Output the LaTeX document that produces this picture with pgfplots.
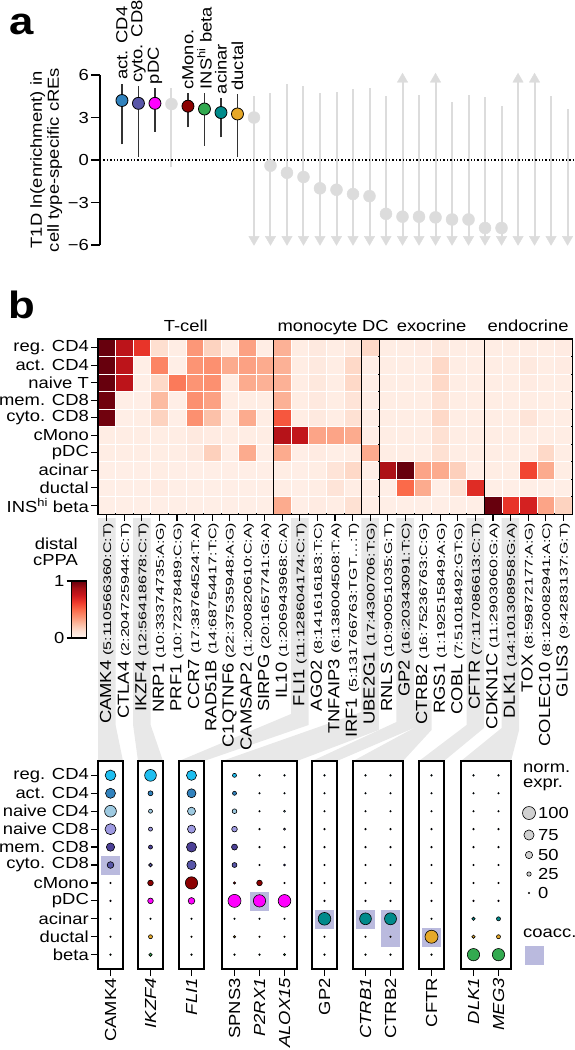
\documentclass[border=0pt]{standalone}
\usepackage{pgfplots}
\pgfplotsset{compat=1.18}
\usepackage{fontspec}
\setmainfont{Liberation Sans}[FakeStretch=1.15]
\newfontfamily\coordfont{Liberation Sans}[FakeStretch=1.45]

\newcommand{\fs}{\fontsize{16}{18}\selectfont}
\newcommand{\fss}{\coordfont\fontsize{11}{12}\selectfont}

\definecolor{cActCD4}{RGB}{49,130,189}
\definecolor{cCytoCD8}{RGB}{88,86,168}
\definecolor{cMono}{RGB}{139,0,0}
\definecolor{cPDC}{RGB}{255,0,255}
\definecolor{cAcinar}{RGB}{0,139,139}
\definecolor{cDuctal}{RGB}{230,168,40}
\definecolor{cBeta}{RGB}{50,170,80}
\definecolor{greyPt}{RGB}{220,220,220}
\definecolor{band}{RGB}{232,232,232}
\definecolor{coacc}{RGB}{186,186,222}

\pgfplotsset{
  colormap={reds}{rgb255=(255,245,240) rgb255=(254,224,210) rgb255=(252,187,161) rgb255=(252,146,114) rgb255=(251,106,74) rgb255=(239,59,44) rgb255=(203,24,29) rgb255=(165,15,21) rgb255=(103,0,13)},
  colormap={cells}{rgb255=(30,190,240) rgb255=(49,130,189) rgb255=(158,202,225) rgb255=(158,154,225) rgb255=(76,64,150) rgb255=(88,86,168) rgb255=(139,0,0) rgb255=(255,0,255) rgb255=(0,139,139) rgb255=(230,168,40) rgb255=(50,170,80)},
  hm/.style={scatter, only marks, mark=square*, mark size=7.75pt, point meta=explicit,
    scatter/use mapped color={draw=mapped color, fill=mapped color}},
  dots/.style={scatter, only marks, mark=*, point meta=\thisrow{r},
    scatter/use mapped color={draw=black, fill=mapped color},
    visualization depends on={0.75+0.0575*\thisrow{v} \as \msz},
    scatter/@pre marker code/.append style={/tikz/mark size=\msz},
    mark options={line width=0.6pt}},
  coac/.style={only marks, mark=square*, mark size=9pt, color=coacc},
  dotbox/.style={
    anchor=north west, scale only axis, height=208pt,
    ymin=0.2, ymax=11.8, xmin=0.5,
    ytick=\empty, xtick pos=left,
    tick align=outside, major tick length=7pt,
    xticklabel style={rotate=90, anchor=east, font=\fs, inner sep=2pt},
    yticklabel style={font=\fs, inner sep=2pt},
    axis line style={line width=1.2pt},
    tick style={line width=1.2pt, black},
    colormap name=cells, point meta min=1, point meta max=11,
    clip=false},
}

\begin{document}
\begin{tikzpicture}
\path[use as bounding box] (0pt,0pt) rectangle (575pt,-1050pt);

% connector bands (decoration)
\begin{scope}[x=1pt,y=1pt]
\fill[band] (98,-518) -- (115.6,-518) -- (115.6,-725) -- (123,-761) -- (98,-761) -- cycle;
\fill[band] (133.1,-518) -- (150.7,-518) -- (150.7,-725) -- (163,-761) -- (138,-761) -- (133.1,-725) -- cycle;
\fill[band] (291,-518) -- (308.6,-518) -- (308.6,-725) -- (204,-761) -- (179,-761) -- (291,-714) -- cycle;
\fill[band] (361.3,-518) -- (378.8,-518) -- (378.8,-730) -- (297,-761) -- (222,-761) -- (361.3,-712) -- cycle;
\fill[band] (396.4,-518) -- (413.9,-518) -- (413.9,-728) -- (337,-761) -- (312,-761) -- (396.4,-722) -- cycle;
\fill[band] (413.9,-700) -- (431.5,-700) -- (431.5,-730) -- (403,-761) -- (353,-761) -- (413.9,-728) -- cycle;
\fill[band] (466.5,-518) -- (484,-518) -- (484,-728) -- (444,-761) -- (419,-761) -- (466.5,-725) -- cycle;
\fill[band] (501.6,-518) -- (519.1,-518) -- (519.1,-730) -- (511,-761) -- (461,-761) -- (501.6,-728) -- cycle;
\node[font=\fontsize{38}{38}\bfseries\selectfont, anchor=base west, inner sep=0pt] at (9,-34) {a};
\node[font=\fontsize{38}{38}\bfseries\selectfont, anchor=base west, inner sep=0pt] at (8,-318) {b};
\node[font=\fontsize{16}{16}\selectfont, align=right, anchor=east, inner sep=0pt] at (78,-552) {distal\\cPPA};
\end{scope}

% ---------------- panel a ----------------
\begin{axis}[
  at={(100pt,-75pt)}, anchor=north west, scale only axis,
  width=473pt, height=170pt,
  xmin=-1.33, xmax=27.33, ymin=-6, ymax=6,
  axis x line=none, axis y line=left,
  axis line style={-, line width=1.2pt},
  ytick={-6,-3,0,3,6}, yticklabels={−6,−3,0,3,6},
  tick align=outside, major tick length=9pt,
  tick style={line width=1.2pt, black},
  yticklabel style={font=\fs, inner sep=2pt},
  ylabel={T1D ln(enrichment) in\\cell type-specific cREs},
  ylabel style={font=\fontsize{16}{17}\selectfont, align=center},
  clip=false,
]
\addplot[draw=greyPt, line width=2pt, unbounded coords=jump, mark=none] table[row sep=\\]{
x y\\
3 -0.5\\ 3 5.1\\ 3 nan\\
8 -5.6\\ 8 4.5\\ 8 nan\\
9 -5.6\\ 9 4.73\\ 9 nan\\
10 -5.6\\ 10 5.4\\ 10 nan\\
11 -5.6\\ 11 5.22\\ 11 nan\\
12 -5.6\\ 12 4.75\\ 12 nan\\
13 -5.6\\ 13 4.8\\ 13 nan\\
14 -5.6\\ 14 5.0\\ 14 nan\\
15 -5.6\\ 15 5.06\\ 15 nan\\
16 -5.6\\ 16 4.52\\ 16 nan\\
17 -5.6\\ 17 5.7\\ 17 nan\\
18 -5.6\\ 18 4.59\\ 18 nan\\
19 -5.6\\ 19 5.7\\ 19 nan\\
20 -5.6\\ 20 4.12\\ 20 nan\\
21 -5.6\\ 21 4.59\\ 21 nan\\
22 -5.6\\ 22 4.42\\ 22 nan\\
23 -5.6\\ 23 3.83\\ 23 nan\\
24 -5.6\\ 24 5.7\\ 24 nan\\
25 -5.6\\ 25 5.7\\ 25 nan\\
26 -5.6\\ 26 4.52\\ 26 nan\\
27 -5.6\\ 27 3.58\\
};
\addplot[only marks, mark=triangle*, mark size=6pt, color=greyPt, mark options={rotate=180, draw=none}] coordinates {
(8,-5.6) (9,-5.6) (10,-5.6) (11,-5.6) (12,-5.6) (13,-5.6) (14,-5.6) (15,-5.6) (16,-5.6) (17,-5.6)
(18,-5.6) (19,-5.6) (20,-5.6) (21,-5.6) (22,-5.6) (23,-5.6) (24,-5.6) (25,-5.6) (26,-5.6) (27,-5.6)};
\addplot[only marks, mark=triangle*, mark size=6pt, color=greyPt, mark options={draw=none}] coordinates {
(17,5.7) (19,5.7) (24,5.7) (25,5.7)};
\addplot[draw=black!80, line width=1.5pt, unbounded coords=jump, mark=none] table[row sep=\\]{
x y\\
0 1.1\\ 0 5.4\\ 0 nan\\
1 0.2\\ 1 5.2\\ 1 nan\\
2 2.0\\ 2 5.1\\ 2 nan\\
4 2.3\\ 4 4.7\\ 4 nan\\
5 1.0\\ 5 4.75\\ 5 nan\\
6 1.6\\ 6 4.4\\ 6 nan\\
7 0.2\\ 7 4.65\\
};
\addplot[black, line width=1.4pt, dash pattern=on 1.4pt off 2pt, mark=none] coordinates {(-1.33,0) (27.33,0)};
\addplot[only marks, mark=*, mark size=6pt, color=greyPt] coordinates {
(3,3.95) (8,3.0) (9,-0.4) (10,-0.9) (11,-1.2) (12,-2.0) (13,-2.1) (14,-2.4) (15,-2.55)
(16,-3.8) (17,-4.0) (18,-4.0) (19,-4.05) (20,-4.2) (21,-4.2) (22,-4.8) (23,-4.8)};
\addplot[only marks, mark=*, mark size=6pt, draw=black, fill=cActCD4, mark options={line width=0.8pt}] coordinates {(0,4.2)};
\addplot[only marks, mark=*, mark size=6pt, draw=black, fill=cCytoCD8, mark options={line width=0.8pt}] coordinates {(1,4.0)};
\addplot[only marks, mark=*, mark size=6pt, draw=black, fill=cPDC, mark options={line width=0.8pt}] coordinates {(2,4.0)};
\addplot[only marks, mark=*, mark size=6pt, draw=black, fill=cMono, mark options={line width=0.8pt}] coordinates {(4,3.8)};
\addplot[only marks, mark=*, mark size=6pt, draw=black, fill=cBeta, mark options={line width=0.8pt}] coordinates {(5,3.6)};
\addplot[only marks, mark=*, mark size=6pt, draw=black, fill=cAcinar, mark options={line width=0.8pt}] coordinates {(6,3.35)};
\addplot[only marks, mark=*, mark size=6pt, draw=black, fill=cDuctal, mark options={line width=0.8pt}] coordinates {(7,3.25)};
\node[rotate=90, anchor=west, font=\fs] at (axis cs:0,5.4) {act. CD4};
\node[rotate=90, anchor=west, font=\fs] at (axis cs:1,5.2) {cyto. CD8};
\node[rotate=90, anchor=west, font=\fs] at (axis cs:2,5.1) {pDC};
\node[rotate=90, anchor=west, font=\fs] at (axis cs:4,4.7) {cMono.};
\node[rotate=90, anchor=west, font=\fs] at (axis cs:5,4.75) {INS\textsuperscript{hi} beta};
\node[rotate=90, anchor=west, font=\fs] at (axis cs:6,4.4) {acinar};
\node[rotate=90, anchor=west, font=\fs] at (axis cs:7,4.65) {ductal};
\end{axis}

% ---------------- panel b heatmap ----------------
\begin{axis}[
  at={(98pt,-339pt)}, anchor=north west, scale only axis,
  width=474pt, height=175pt,
  xmin=0.5, xmax=27.5, ymin=0.5, ymax=10.5,
  xtick={1,...,27}, ytick={1,...,10},
  xtick pos=left, ytick pos=left,
  tick align=outside, major tick length=7pt,
  tick style={line width=1.2pt, black},
  axis line style={line width=1.3pt},
  axis on top,
  yticklabels={INS\textsuperscript{hi} beta, ductal, acinar, pDC, cMono, cyto. CD8, mem. CD8, naive T, act. CD4, reg. CD4},
  xticklabels={
    {CAMK4 {\fss(5:110566360:C:T)}},
    {CTLA4 {\fss(2:204725944:C:T)}},
    {IKZF4 {\fss(12:56418678:C:T)}},
    {NRP1 {\fss(10:33374735:A:G)}},
    {PRF1 {\fss(10:72378489:C:G)}},
    {CCR7 {\fss(17:38764524:T:A)}},
    {RAD51B {\fss(14:68754417:T:C)}},
    {C1QTNF6 {\fss(22:37535948:A:G)}},
    {CAMSAP2 {\fss(1:200820610:C:A)}},
    {SIRPG {\fss(20:1657741:G:A)}},
    {IL10 {\fss(1:206943968:C:A)}},
    {FLI1 {\fss(11:128604174:C:T)}},
    {AGO2 {\fss(8:141616183:T:C)}},
    {TNFAIP3 {\fss(6:138004508:T:A)}},
    {IRF1 {\fss(5:131766763:TGT\ldots:T)}},
    {UBE2G1 {\fss(17:4300706:T:G)}},
    {RNLS {\fss(10:90051035:G:T)}},
    {GP2 {\fss(16:20343091:T:C)}},
    {CTRB2 {\fss(16:75236763:C:G)}},
    {RGS1 {\fss(1:192515849:A:G)}},
    {COBL {\fss(7:51018492:GT:G)}},
    {CFTR {\fss(7:117086613:C:T)}},
    {CDKN1C {\fss(11:2903060:G:A)}},
    {DLK1 {\fss(14:101308958:G:A)}},
    {TOX {\fss(8:59872177:A:G)}},
    {COLEC10 {\fss(8:120082941:A:C)}},
    {GLIS3 {\fss(9:4283137:G:T)}}},
  xticklabel style={rotate=90, anchor=east, font=\fs, inner sep=1.5pt},
  yticklabel style={font=\fs, inner sep=2pt},
  colormap name=reds, point meta min=0, point meta max=1,
  colorbar,
  colorbar style={
    at={(parent axis.south west)}, anchor=north east,
    xshift=-20pt, yshift=-67pt,
    scale only axis, width=15pt, height=57pt,
    ytick={0,1}, yticklabels={0,1},
    yticklabel pos=left, ytick pos=left,
    tick align=outside, major tick length=5pt,
    yticklabel style={font=\fs, inner sep=2pt},
    axis line style={line width=1.2pt},
    tick style={line width=1.2pt, black}},
  clip=false,
]
\addplot[hm] table[row sep=\\, header=false, x expr=\coordindex+1, y expr=10, meta index=0]{1.00\\0.80\\0.65\\0.13\\0.05\\0.36\\0.17\\0.05\\0.33\\0.05\\0.28\\0.05\\0.07\\0.05\\0.08\\0.15\\0.05\\0.05\\0.06\\0.08\\0.05\\0.05\\0.05\\0.05\\0.05\\0.05\\0.06\\};
\addplot[hm] table[row sep=\\, header=false, x expr=\coordindex+1, y expr=9, meta index=0]{1.00\\0.80\\0.04\\0.42\\0.04\\0.37\\0.38\\0.30\\0.33\\0.30\\0.28\\0.05\\0.07\\0.05\\0.15\\0.04\\0.05\\0.05\\0.05\\0.15\\0.05\\0.05\\0.05\\0.05\\0.07\\0.05\\0.06\\};
\addplot[hm] table[row sep=\\, header=false, x expr=\coordindex+1, y expr=8, meta index=0]{1.00\\0.80\\0.04\\0.15\\0.45\\0.37\\0.38\\0.05\\0.30\\0.28\\0.28\\0.05\\0.08\\0.05\\0.15\\0.04\\0.05\\0.05\\0.05\\0.15\\0.05\\0.05\\0.05\\0.05\\0.06\\0.05\\0.05\\};
\addplot[hm] table[row sep=\\, header=false, x expr=\coordindex+1, y expr=7, meta index=0]{0.98\\0.04\\0.04\\0.25\\0.04\\0.38\\0.33\\0.05\\0.05\\0.05\\0.28\\0.05\\0.07\\0.05\\0.10\\0.04\\0.05\\0.05\\0.05\\0.12\\0.05\\0.05\\0.05\\0.05\\0.05\\0.05\\0.05\\};
\addplot[hm] table[row sep=\\, header=false, x expr=\coordindex+1, y expr=6, meta index=0]{0.98\\0.04\\0.05\\0.17\\0.04\\0.38\\0.23\\0.05\\0.30\\0.05\\0.55\\0.05\\0.07\\0.05\\0.12\\0.04\\0.05\\0.05\\0.05\\0.15\\0.05\\0.05\\0.05\\0.05\\0.10\\0.05\\0.05\\};
\addplot[hm] table[row sep=\\, header=false, x expr=\coordindex+1, y expr=5, meta index=0]{0.05\\0.05\\0.05\\0.05\\0.05\\0.07\\0.06\\0.05\\0.05\\0.05\\0.82\\0.78\\0.32\\0.32\\0.30\\0.04\\0.05\\0.05\\0.05\\0.12\\0.05\\0.05\\0.05\\0.05\\0.05\\0.05\\0.05\\};
\addplot[hm] table[row sep=\\, header=false, x expr=\coordindex+1, y expr=4, meta index=0]{0.05\\0.05\\0.05\\0.05\\0.05\\0.07\\0.18\\0.04\\0.30\\0.04\\0.30\\0.04\\0.06\\0.04\\0.05\\0.30\\0.05\\0.05\\0.05\\0.12\\0.05\\0.05\\0.05\\0.05\\0.05\\0.15\\0.05\\};
\addplot[hm] table[row sep=\\, header=false, x expr=\coordindex+1, y expr=3, meta index=0]{0.04\\0.04\\0.04\\0.05\\0.04\\0.04\\0.04\\0.04\\0.04\\0.04\\0.05\\0.04\\0.05\\0.10\\0.15\\0.04\\0.85\\1.00\\0.32\\0.30\\0.18\\0.04\\0.05\\0.05\\0.60\\0.30\\0.05\\};
\addplot[hm] table[row sep=\\, header=false, x expr=\coordindex+1, y expr=2, meta index=0]{0.04\\0.04\\0.04\\0.06\\0.04\\0.04\\0.04\\0.04\\0.04\\0.04\\0.05\\0.04\\0.05\\0.10\\0.05\\0.04\\0.04\\0.50\\0.30\\0.04\\0.12\\0.68\\0.04\\0.04\\0.04\\0.04\\0.04\\};
\addplot[hm] table[row sep=\\, header=false, x expr=\coordindex+1, y expr=1, meta index=0]{0.04\\0.04\\0.04\\0.04\\0.04\\0.04\\0.04\\0.04\\0.04\\0.04\\0.30\\0.04\\0.06\\0.05\\0.12\\0.04\\0.04\\0.04\\0.04\\0.04\\0.04\\0.04\\1.00\\0.65\\0.72\\0.32\\0.17\\};
\draw[line width=1.3pt] (axis cs:10.5,0.5) -- (axis cs:10.5,10.5);
\draw[line width=1.3pt] (axis cs:15.5,0.5) -- (axis cs:15.5,10.5);
\draw[line width=1.3pt] (axis cs:16.5,0.5) -- (axis cs:16.5,10.5);
\draw[line width=1.3pt] (axis cs:22.5,0.5) -- (axis cs:22.5,10.5);
\node[font=\fs, anchor=base, yshift=8pt] at (axis cs:5.5,10.5) {T-cell};
\node[font=\fs, anchor=base, yshift=8pt] at (axis cs:13,10.5) {monocyte};
\node[font=\fs, anchor=base, yshift=8pt] at (axis cs:16.3,10.5) {DC};
\node[font=\fs, anchor=base, yshift=8pt] at (axis cs:19.5,10.5) {exocrine};
\node[font=\fs, anchor=base, yshift=8pt] at (axis cs:25,10.5) {endocrine};
\end{axis}

% ---------------- panel c dot plots ----------------
\begin{axis}[dotbox, at={(98pt,-761pt)}, width=25pt, xmax=1.5, xtick={1}, xticklabels={CAMK4},
  ytick={1,...,11}, ytick pos=left,
  yticklabels={beta, ductal, acinar, pDC, cMono, cyto. CD8, mem. CD8, naive CD8, naive CD4, act. CD4, reg. CD4}]
\addplot[coac] coordinates {(1,6)};
\addplot[dots] table[row sep=\\, y expr=12-\thisrow{r}]{x r v\\ 1 1 80\\ 1 2 74\\ 1 3 89\\ 1 4 83\\ 1 5 59\\ 1 6 45\\ 1 7 0\\ 1 8 0\\ 1 9 0\\ 1 10 0\\ 1 11 0\\};
\end{axis}

\begin{axis}[dotbox, at={(138pt,-761pt)}, width=25pt, xmax=1.5, xtick={1}, xticklabels={\itshape IKZF4}]
\addplot[dots] table[row sep=\\, y expr=12-\thisrow{r}]{x r v\\ 1 1 89\\ 1 2 30\\ 1 3 22\\ 1 4 22\\ 1 5 22\\ 1 6 20\\ 1 7 36\\ 1 8 36\\ 1 9 0\\ 1 10 22\\ 1 11 16\\};
\end{axis}

\begin{axis}[dotbox, at={(179pt,-761pt)}, width=25pt, xmax=1.5, xtick={1}, xticklabels={\itshape FLI1}]
\addplot[dots] table[row sep=\\, y expr=12-\thisrow{r}]{x r v\\ 1 1 74\\ 1 2 65\\ 1 3 57\\ 1 4 57\\ 1 5 74\\ 1 6 68\\ 1 7 94\\ 1 8 45\\ 1 9 0\\ 1 10 0\\ 1 11 0\\};
\end{axis}

\begin{axis}[dotbox, at={(222pt,-761pt)}, width=75pt, xmax=3.5, xtick={1,2,3}, xticklabels={SPNS3, \itshape P2RX1, \itshape ALOX15}]
\addplot[coac] coordinates {(2,4)};
\addplot[dots] table[row sep=\\, y expr=12-\thisrow{r}]{x r v\\
1 1 22\\ 1 2 22\\ 1 3 28\\ 1 4 36\\ 1 5 39\\ 1 6 30\\ 1 7 8\\ 1 8 100\\ 1 9 0\\ 1 10 6\\ 1 11 0\\
2 1 0\\ 2 2 0\\ 2 3 0\\ 2 4 0\\ 2 5 0\\ 2 6 0\\ 2 7 36\\ 2 8 94\\ 2 9 0\\ 2 10 0\\ 2 11 0\\
3 1 0\\ 3 2 0\\ 3 3 5\\ 3 4 5\\ 3 5 0\\ 3 6 5\\ 3 7 0\\ 3 8 97\\ 3 9 0\\ 3 10 0\\ 3 11 5\\};
\end{axis}

\begin{axis}[dotbox, at={(312pt,-761pt)}, width=25pt, xmax=1.5, xtick={1}, xticklabels={GP2}]
\addplot[coac] coordinates {(1,3)};
\addplot[dots] table[row sep=\\, y expr=12-\thisrow{r}]{x r v\\ 1 1 0\\ 1 2 0\\ 1 3 0\\ 1 4 0\\ 1 5 0\\ 1 6 0\\ 1 7 0\\ 1 8 0\\ 1 9 97\\ 1 10 0\\ 1 11 0\\};
\end{axis}

\begin{axis}[dotbox, at={(353pt,-761pt)}, width=50pt, xmax=2.5, xtick={1,2}, xticklabels={\itshape CTRB1, CTRB2}]
\addplot[coac] coordinates {(1,3) (2,3) (2,2)};
\addplot[dots] table[row sep=\\, y expr=12-\thisrow{r}]{x r v\\
1 1 0\\ 1 2 0\\ 1 3 0\\ 1 4 0\\ 1 5 0\\ 1 6 0\\ 1 7 0\\ 1 8 0\\ 1 9 89\\ 1 10 0\\ 1 11 0\\
2 1 0\\ 2 2 0\\ 2 3 0\\ 2 4 0\\ 2 5 0\\ 2 6 0\\ 2 7 0\\ 2 8 0\\ 2 9 91\\ 2 10 0\\ 2 11 0\\};
\end{axis}

\begin{axis}[dotbox, at={(419pt,-761pt)}, width=25pt, xmax=1.5, xtick={1}, xticklabels={CFTR}]
\addplot[coac] coordinates {(1,2)};
\addplot[dots] table[row sep=\\, y expr=12-\thisrow{r}]{x r v\\ 1 1 0\\ 1 2 0\\ 1 3 0\\ 1 4 0\\ 1 5 0\\ 1 6 0\\ 1 7 0\\ 1 8 0\\ 1 9 0\\ 1 10 100\\ 1 11 0\\};
\end{axis}

\begin{axis}[dotbox, at={(461pt,-761pt)}, width=50pt, xmax=2.5, xtick={1,2}, xticklabels={\itshape DLK1, \itshape MEG3}]
\addplot[dots] table[row sep=\\, y expr=12-\thisrow{r}]{x r v\\
1 1 0\\ 1 2 0\\ 1 3 0\\ 1 4 0\\ 1 5 0\\ 1 6 0\\ 1 7 0\\ 1 8 0\\ 1 9 16\\ 1 10 16\\ 1 11 94\\
2 1 0\\ 2 2 0\\ 2 3 0\\ 2 4 0\\ 2 5 0\\ 2 6 0\\ 2 7 0\\ 2 8 0\\ 2 9 22\\ 2 10 22\\ 2 11 94\\};
\end{axis}

% legend
\begin{axis}[at={(515pt,-760pt)}, anchor=north west, scale only axis, width=60pt, height=210pt,
  xmin=515, xmax=575, ymin=-970, ymax=-760, hide axis, clip=false]
\addplot[scatter, only marks, mark=*, point meta=\thisrow{v},
  scatter/use mapped color={draw=black, fill=black!18},
  visualization depends on={0.75+0.0575*\thisrow{v} \as \msz},
  scatter/@pre marker code/.append style={/tikz/mark size=\msz},
  mark options={line width=0.6pt}]
  table[row sep=\\]{x y v\\ 529 -813 100\\ 529 -835 75\\ 529 -855 50\\ 529 -874 25\\ 529 -893 0\\};
\addplot[coac] coordinates {(534,-955)};
\node[anchor=west, font=\fs, inner sep=0pt] at (axis cs:538,-813) {100};
\node[anchor=west, font=\fs, inner sep=0pt] at (axis cs:538,-835) {75};
\node[anchor=west, font=\fs, inner sep=0pt] at (axis cs:538,-855) {50};
\node[anchor=west, font=\fs, inner sep=0pt] at (axis cs:538,-874) {25};
\node[anchor=west, font=\fs, inner sep=0pt] at (axis cs:538,-893) {0};
\node[anchor=north west, font=\fontsize{16}{15}\selectfont, align=left, inner sep=0pt] at (axis cs:523,-764) {norm.\\expr.};
\node[anchor=west, font=\fs, inner sep=0pt] at (axis cs:523,-933) {coacc.};
\end{axis}
\end{tikzpicture}
\end{document}
